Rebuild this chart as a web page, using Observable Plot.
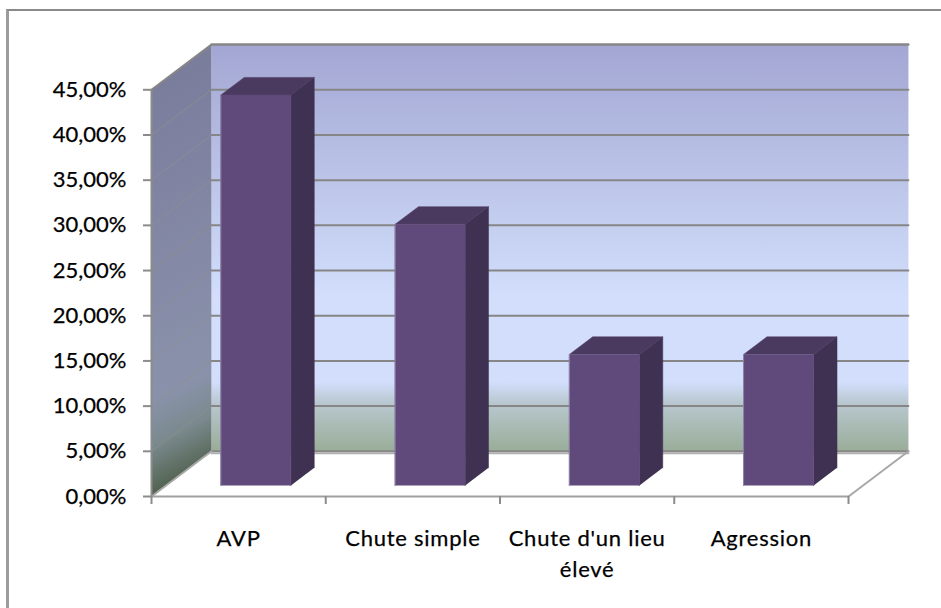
<!DOCTYPE html>
<html lang="fr">
<head>
<meta charset="utf-8">
<script src="https://cdn.jsdelivr.net/npm/d3@7"></script>
<script src="https://cdn.jsdelivr.net/npm/@observablehq/plot@0.6"></script>
<style>
html,body{margin:0;padding:0;background:#fff;overflow:hidden}
#chart{position:relative;width:941px;height:608px}
#chart svg{display:block;position:absolute;left:0;top:0;font-family:Lato,"Noto Sans",sans-serif}
#chart svg text{stroke:#000;stroke-width:.25px}
#chart svg g[aria-label="text"]{letter-spacing:.75px}
#border{position:absolute;left:6px;top:9px;right:0;bottom:0;border-top:2px solid #8a8a8a;border-left:3px solid #9c9c9c}
</style>
</head>
<body>
<div id="chart"><div id="border"></div></div>
<script>
const categories = ["AVP", "Chute simple", "Chute d'un lieu\nélevé", "Agression"];
const values = [43.2, 28.9, 14.5, 14.5];
const yTicks = [0, 5, 10, 15, 20, 25, 30, 35, 40, 45];
const xTicks = [0, 1, 2, 3, 4];

// Oblique projection: one unit of depth shifts a point by these data amounts.
const depthX = 0.344, depthY = 5;
const barInset = 0.314, barWidth = 0.402, barDepthStart = 0.244, barDepthEnd = 0.634;

const pt = (x, y, d, id) => ({x: x + d * depthX, y: y + d * depthY, id});
const poly = (id, corners) => corners.map(([x, y, d]) => pt(x, y, d, id));

const leftWall = poly("left", [[0,0,0],[0,45,0],[0,45,1],[0,0,1]]);
const backWall = poly("back", [[0,0,1],[0,45,1],[4,45,1],[4,0,1]]);

const gridBack = yTicks.flatMap(t => poly("b" + t, [[0,t,1],[4,t,1]]));
const gridSide = yTicks.flatMap(t => poly("s" + t, [[0,t,0],[0,t,1]]));

const bars = values.map((v, i) => ({i, v, x0: i + barInset, x1: i + barInset + barWidth}));
const faces = (pick) => bars.flatMap(b => pick(b));
const frontFaces = faces(b => poly("f" + b.i, [[b.x0,0,barDepthStart],[b.x0,b.v,barDepthStart],[b.x1,b.v,barDepthStart],[b.x1,0,barDepthStart]]));
const topFaces = faces(b => poly("t" + b.i, [[b.x0,b.v,barDepthStart],[b.x0,b.v,barDepthEnd],[b.x1,b.v,barDepthEnd],[b.x1,b.v,barDepthStart]]));
const sideFaces = faces(b => poly("r" + b.i, [[b.x1,0,barDepthStart],[b.x1,b.v,barDepthStart],[b.x1,b.v,barDepthEnd],[b.x1,0,barDepthEnd]]));
const edgeFaces = faces(b => poly("e" + b.i, [[b.x0,0,barDepthStart],[b.x0,b.v,barDepthStart]]));

const floorFront = poly("ff", [[0,0,0],[4,0,0]]);
const floorBack = poly("fb", [[0,0,1],[4,0,1]]);
const floorRight = poly("fr", [[4,0,0],[4,0,1]]);
const floorLeft = poly("fl", [[0,0,0],[0,0,1]]);
const wallTop = poly("wt", [[0,45,0],[0,45,1],[4,45,1]]);
const wallEdge = poly("we", [[0,0,0],[0,45,0]]);

const path = (data, o) => Plot.line(data, {x: "x", y: "y", z: "id", curve: "linear", ...o});

const defs = () => {
  const s = d3.create("svg:defs");
  const grad = (id, attrs, stops) => {
    const g = s.append("linearGradient").attr("id", id);
    Object.entries(attrs).forEach(([k, v]) => g.attr(k, v));
    stops.forEach(([o, c]) => g.append("stop").attr("offset", o).attr("stop-color", c));
  };
  grad("backGrad", {x1: 0, y1: 0, x2: 0, y2: 1}, [
    [0, "#a3a6d3"], [0.3, "#b9c2e6"], [0.62, "#d2defc"], [0.83, "#d2defc"], [0.88, "#b9c8d0"], [1, "#99ad98"]
  ]);
  grad("leftGrad", {gradientUnits: "userSpaceOnUse", x1: 130, y1: 100, x2: 330, y2: 500}, [
    [0, "#7b7d9d"], [0.62, "#8a92ab"], [0.71, "#7a8a8e"], [0.8, "#566656"], [1, "#4a5a4a"]
  ]);
  return s.node();
};

const chart = Plot.plot({
  width: 941,
  height: 608,
  marginLeft: 151,
  marginRight: 93,
  marginTop: 89.3,
  marginBottom: 112,
  x: {type: "linear", domain: [0, 4]},
  y: {domain: [0, 45]},
  marks: [
    defs,
    path(backWall, {fill: "url(#backGrad)", stroke: "none"}),
    path(leftWall, {fill: "url(#leftGrad)", stroke: "none"}),
    path(gridSide, {stroke: "#8f8f8f", strokeWidth: 1, strokeOpacity: 0.8}),
    path(gridBack, {stroke: "#868686", strokeWidth: 2}),
    path(floorBack, {stroke: "#b0b0b0", strokeWidth: 2, dy: 2}),
    path(floorRight, {stroke: "#a8a8a8", strokeWidth: 2}),
    path(floorLeft, {stroke: "#a8a8a8", strokeWidth: 2}),
    path(wallTop, {stroke: "#868686", strokeWidth: 2}),
    path(wallEdge, {stroke: "#8c8c8c", strokeWidth: 2}),
    path(sideFaces, {fill: "#3f3151", stroke: "#3f3151", strokeWidth: 0.5}),
    path(topFaces, {fill: "#4b3a60", stroke: "#4b3a60", strokeWidth: 0.5}),
    path(frontFaces, {fill: "#604a7b", stroke: "#604a7b", strokeWidth: 0.5}),
    path(edgeFaces, {stroke: "#8f83aa", strokeWidth: 1}),
    path(floorFront, {stroke: "#a0a0a0", strokeWidth: 2}),
    Plot.axisY({
      ticks: yTicks, tickSize: 8, tickPadding: 17, label: null, stroke: "#8c8c8c", strokeWidth: 2,
      tickFormat: d => d.toFixed(2).replace(".", ",") + "%", fontSize: 22, fill: "#000"
    }),
    Plot.axisX({ticks: xTicks, tickSize: 8, tickFormat: () => "", label: null, stroke: "#8c8c8c", strokeWidth: 2}),
    Plot.text(categories, {
      x: (d, i) => i + 0.5, y: 0, text: d => d,
      dy: 27, lineAnchor: "top", lineHeight: 1.41, fontSize: 22, fill: "#000", textAnchor: "middle"
    })
  ]
});
document.getElementById("chart").appendChild(chart);
</script>
</body>
</html>
